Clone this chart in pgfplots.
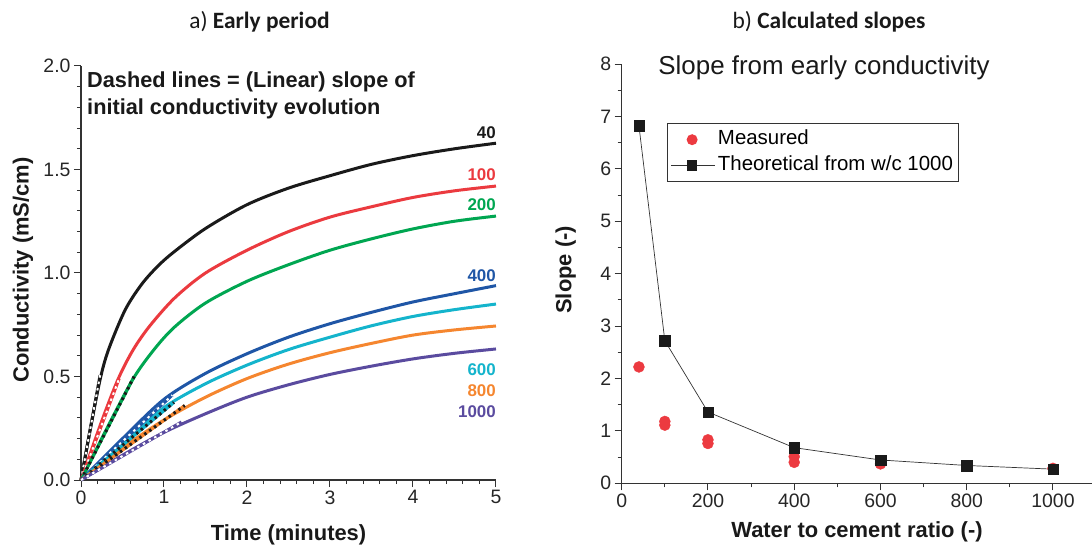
\documentclass[border=0pt]{standalone}
\usepackage{pgfplots}
\pgfplotsset{compat=1.18}
\usepackage{fontspec}
\setmainfont{Liberation Sans}
\newfontfamily\carlito{Carlito}
\definecolor{cK}{HTML}{1A1A1A}
\definecolor{cR}{HTML}{EB3A3F}
\definecolor{cG}{HTML}{00A651}
\definecolor{cB}{HTML}{1F56A6}
\definecolor{cC}{HTML}{14B4CC}
\definecolor{cO}{HTML}{F5862F}
\definecolor{cP}{HTML}{5A4B9F}
\definecolor{axc}{HTML}{333333}
\definecolor{dotred}{HTML}{EC3A40}
\pgfplotsset{
 base/.style={scale only axis, axis lines*=left, tick align=outside, clip=false,
  axis line style={axc, line width=1.1bp}, tick style={axc, line width=1bp},
  major tick length=7bp, minor tick length=4bp,
  tick label style={font=\fontsize{19.5}{20}\selectfont, text=black!85},
  /pgf/number format/assume math mode=true, /pgf/number format/1000 sep={},
  label style={font=\bfseries\fontsize{22}{24}\selectfont, text=black!90}},
 crv/.style={line width=3bp, smooth},
 wdash/.style={white, line width=2bp, dash pattern=on 2.5bp off 4bp},
 kdot/.style={cK, line width=3bp, dash pattern=on 2.5bp off 3.5bp},
}
\tikzset{lab/.style={anchor=base east, inner sep=0pt, font=\bfseries\fontsize{17}{18}\selectfont}}
\begin{document}
\begin{tikzpicture}
\useasboundingbox (0,0) rectangle (1092bp,551bp);
\node[anchor=base, inner sep=0pt, font=\carlito\fontsize{23.5}{25}\selectfont, text=black!90] at (259.5bp,522.7bp) {a) \textbf{Early period}};
\node[anchor=base, inner sep=0pt, font=\carlito\fontsize{23.5}{25}\selectfont, text=black!90] at (829bp,522.7bp) {b) \textbf{Calculated slopes}};
\begin{axis}[base, at={(81bp,71bp)}, anchor=south west, width=415bp, height=414bp,
 xmin=0, xmax=5, ymin=0, ymax=2, xtick={0,1,2,3,4,5}, minor x tick num=4,
 ytick={0,0.5,1,1.5,2}, minor y tick num=4,
 yticklabel style={/pgf/number format/.cd, fixed, fixed zerofill, precision=1},
 xlabel={Time (minutes)}, ylabel={Conductivity (mS/cm)},
 xlabel style={at={(axis description cs:0.5,-0.133)}, anchor=center},
 ylabel style={at={(axis description cs:-0.14,0.507)}, anchor=center}]
\addplot[crv, cK] coordinates {(0,0)(0.1,0.22)(0.229,0.483)(0.33,0.628)(0.53,0.82)(0.73,0.945)(0.93,1.035)(1.13,1.105)(1.5,1.215)(2,1.33)(2.5,1.41)(3,1.47)(3.5,1.525)(4,1.567)(4.5,1.60)(5,1.627)};
\addplot[crv, cR] coordinates {(0,0)(0.25,0.285)(0.45,0.49)(0.63,0.63)(0.83,0.745)(1.13,0.88)(1.5,1.0)(2,1.11)(2.5,1.20)(3,1.27)(3.5,1.32)(4,1.365)(4.5,1.397)(5,1.42)};
\addplot[crv, cG] coordinates {(0,0)(0.3,0.24)(0.63,0.49)(0.89,0.635)(1.13,0.74)(1.5,0.855)(2,0.96)(2.5,1.04)(3,1.11)(3.5,1.165)(4,1.213)(4.5,1.25)(5,1.275)};
\addplot[crv, cB] coordinates {(0,0)(0.5,0.20)(1,0.39)(1.5,0.515)(2,0.61)(2.5,0.69)(3,0.755)(3.5,0.81)(4,0.86)(4.5,0.90)(5,0.939)};
\addplot[crv, cC] coordinates {(0,0)(0.5,0.18)(1,0.35)(1.5,0.465)(2,0.555)(2.5,0.63)(3,0.69)(3.5,0.745)(4,0.79)(4.5,0.823)(5,0.85)};
\addplot[crv, cO] coordinates {(0,0)(0.5,0.155)(1,0.29)(1.5,0.40)(2,0.49)(2.5,0.56)(3,0.615)(3.5,0.66)(4,0.70)(4.5,0.725)(5,0.744)};
\addplot[crv, cP] coordinates {(0,0)(0.5,0.12)(1,0.23)(1.5,0.32)(2,0.40)(2.5,0.46)(3,0.51)(3.5,0.55)(4,0.585)(4.5,0.612)(5,0.633)};
% linear initial slopes
\addplot[cK, line width=3bp] coordinates {(0,0)(0.23,0.506)};
\addplot[wdash] coordinates {(0,0)(0.23,0.506)};
\addplot[cR, line width=3bp] coordinates {(0,0)(0.46,0.49)};
\addplot[wdash] coordinates {(0,0)(0.46,0.49)};
\addplot[cG, line width=3bp] coordinates {(0,0)(0.64,0.50)};
\addplot[kdot] coordinates {(0,0)(0.64,0.50)};
\addplot[cB, line width=3bp] coordinates {(0,0)(1.1,0.41)};
\addplot[wdash] coordinates {(0,0)(1.1,0.41)};
\addplot[cC, line width=3bp] coordinates {(0,0)(1.12,0.375)};
\addplot[kdot] coordinates {(0,0)(1.12,0.375)};
\addplot[cO, line width=3bp] coordinates {(0,0)(1.25,0.36)};
\addplot[kdot] coordinates {(0,0)(1.25,0.36)};
\addplot[cP, line width=3bp] coordinates {(0,0)(1.21,0.28)};
\addplot[wdash] coordinates {(0,0)(1.21,0.28)};
\node[lab, text=cK] at (axis cs:5,1.651) {40};
\node[lab, text=cR] at (axis cs:5,1.449) {100};
\node[lab, text=cG] at (axis cs:5,1.304) {200};
\node[lab, text=cB] at (axis cs:5,0.961) {400};
\node[lab, text=cC] at (axis cs:5,0.504) {600};
\node[lab, text=cO] at (axis cs:5,0.402) {800};
\node[lab, text=cP] at (axis cs:5,0.303) {1000};
\node[anchor=base west, inner sep=0pt, font=\bfseries\fontsize{21.8}{22}\selectfont, text=black!90] at (axis description cs:0.0145,0.9476) {Dashed lines = (Linear) slope of};
\node[anchor=base west, inner sep=0pt, font=\bfseries\fontsize{21.8}{22}\selectfont, text=black!90] at (axis description cs:0.0145,0.884) {initial conductivity evolution};
\end{axis}
\begin{axis}[base, at={(621.7bp,67.7bp)}, anchor=south west, width=474.4bp, height=419.3bp,
 xmin=0, xmax=1100, ymin=0, ymax=8, xtick={0,200,400,600,800,1000}, minor x tick num=1,
 ytick={0,1,2,3,4,5,6,7,8}, minor y tick num=1,
 xlabel={Water to cement ratio (-)}, ylabel={Slope (-)},
 xlabel style={at={(axis description cs:0.496,-0.116)}, anchor=center},
 ylabel style={at={(axis description cs:-0.118,0.509)}, anchor=center},
 legend style={at={(axis description cs:0.0963,0.8586)}, anchor=north west, draw=axc, line width=0.8bp, fill=white,
  font=\fontsize{20.5}{22}\selectfont, inner xsep=3bp, inner ysep=4bp, row sep=2bp,
  nodes={inner sep=2.5bp, text height=14.5bp, text depth=4.5bp}},
 legend cell align=left]
\addplot[only marks, mark=*, mark size=5.5bp, mark options={draw=dotred, fill=dotred},
 legend image code/.code={\path[draw=none, fill=none] (0bp,0bp)--(44bp,0bp); \fill[dotred, draw=none] (21bp,0bp) circle (5.5bp);}]
 coordinates {(40,2.22)(100,1.18)(100,1.11)(200,0.83)(200,0.76)(400,0.51)(400,0.40)(600,0.37)(800,0.33)(1000,0.285)};
\addlegendentry{Measured}
\addplot[axc, line width=0.7bp, mark=square*, mark size=5.3bp, mark options={draw=cK, fill=cK, line width=0.3bp},
 legend image code/.code={\draw[axc, line width=0.7bp] (0bp,0bp)--(44bp,0bp); \fill[cK, draw=none] (15.7bp,-5.3bp) rectangle (26.3bp,5.3bp);}]
 coordinates {(40,6.82)(100,2.72)(200,1.36)(400,0.68)(600,0.445)(800,0.34)(1000,0.27)};
\addlegendentry{Theoretical from w/c 1000}
\node[anchor=base, inner sep=0pt, font=\fontsize{26}{27}\selectfont, text=black!90] at (axis description cs:0.4264,0.9754) {Slope from early conductivity};
\end{axis}
\end{tikzpicture}
\end{document}
